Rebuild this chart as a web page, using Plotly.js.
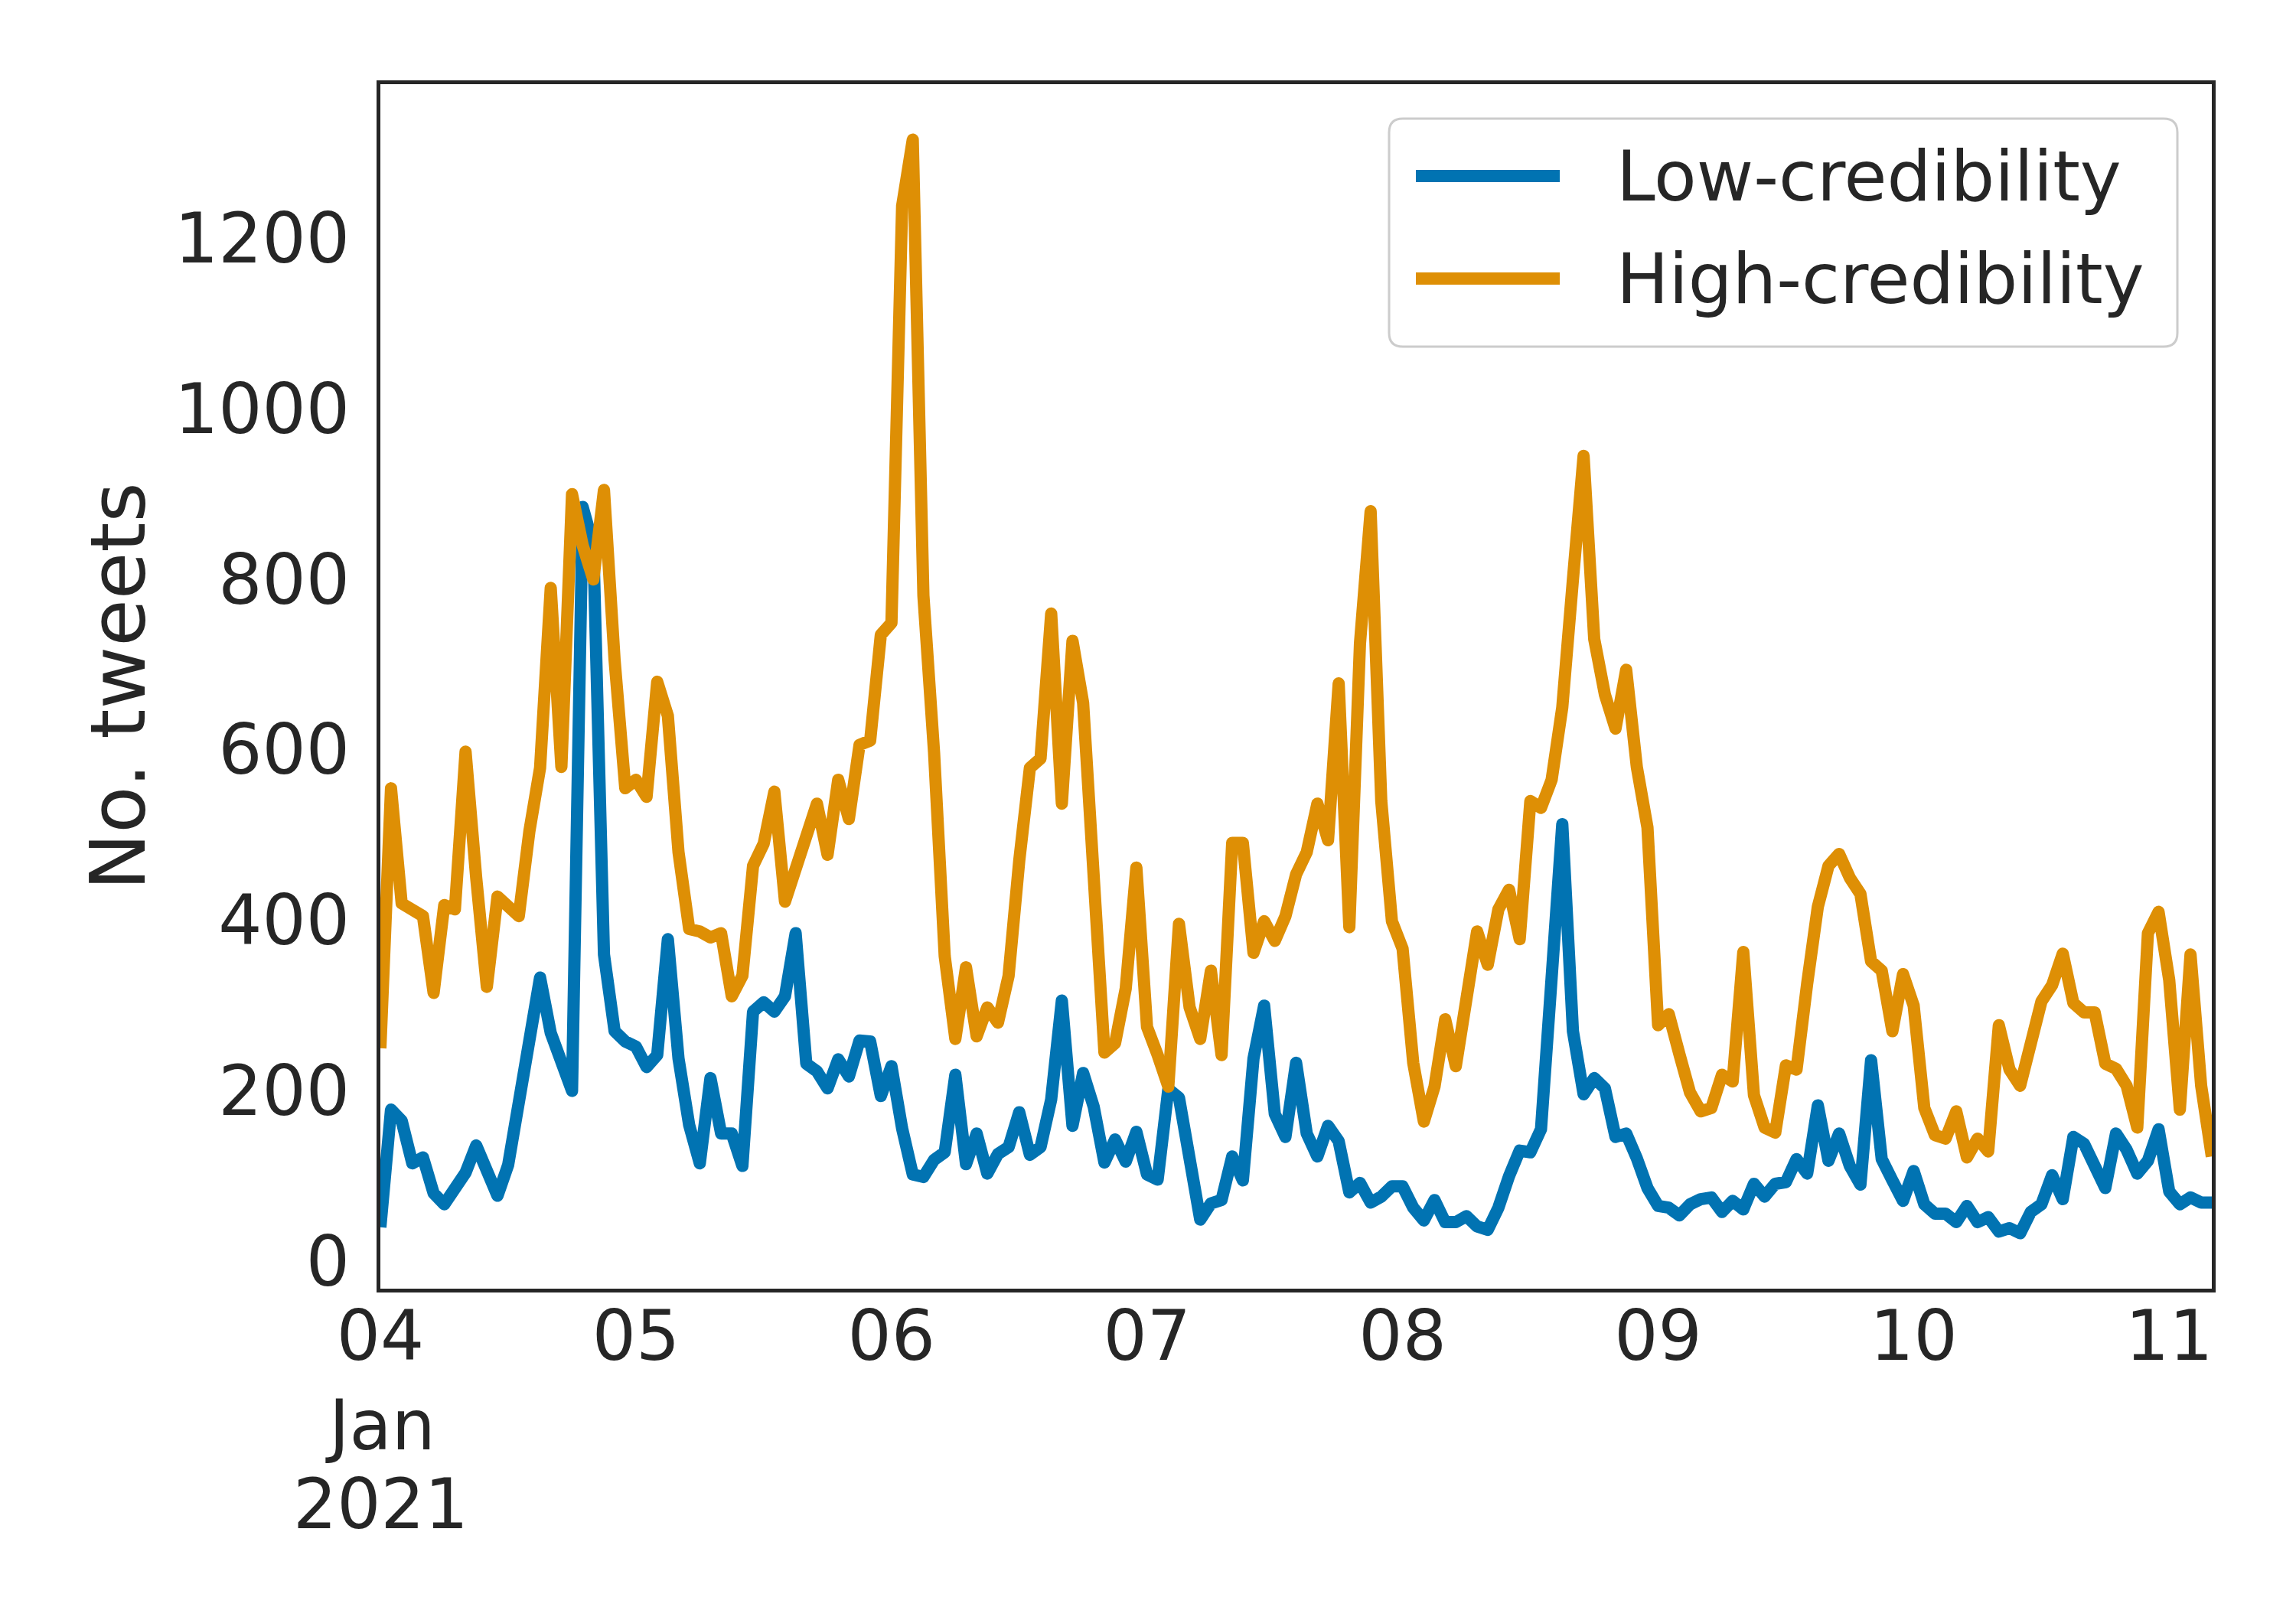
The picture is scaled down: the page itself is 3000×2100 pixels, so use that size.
<!DOCTYPE html>
<html>
<head>
<meta charset="utf-8">
<script src="https://cdn.plot.ly/plotly-3.0.1.min.js"></script>
<style>
  html, body { margin: 0; padding: 0; background: #ffffff; }
  #chart { width: 3000px; height: 2100px; }
  .scatterlayer path.js-line { stroke-linejoin: round !important; }
</style>
</head>
<body>
<div id="chart"></div>
<script>
// Hourly tweet counts, starting 2021-01-04 00:00 (one value per hour)
const startTime = Date.UTC(2021, 0, 4, 0, 0, 0);

const lowCredibility = [
  40, 178, 165, 115, 122, 80, 67, 88, 104, 136,
  110, 77, 113, 180, 250, 333, 268, 230, 200, 885,
  840, 360, 270, 258, 252, 228, 242, 378, 238, 160,
  115, 215, 150, 150, 112, 293, 304, 293, 311, 385,
  232, 223, 203, 237, 217, 259, 258, 194, 229, 156,
  102, 99, 119, 128, 219, 114, 150, 103, 126, 134,
  175, 125, 134, 190, 306, 159, 221, 181, 116, 143,
  117, 152, 102, 96, 202, 192, 110, 49, 68, 72,
  123, 95, 238, 300, 173, 146, 233, 150, 123, 159,
  141, 81, 92, 69, 76, 88, 88, 63, 48, 72,
  46, 46, 53, 41, 37, 63, 100, 130, 128, 155,
  333, 513, 270, 196, 215, 203, 146, 150, 121, 86,
  65, 63, 54, 67, 73, 75, 58, 71, 61, 91,
  76, 91, 93, 120, 103, 183, 118, 150, 112, 90,
  236, 120, 95, 71, 106, 67, 56, 56, 46, 65,
  46, 52, 35, 39, 33, 58, 67, 101, 73, 146,
  138, 112, 86, 150, 131, 103, 118, 155, 82, 67,
  75, 69, 69
];

const highCredibility = [
  250, 555, 420, 412, 405, 315, 418, 413, 598, 450,
  322, 428, 415, 405, 505, 579, 790, 580, 900, 840,
  800, 905, 705, 555, 565, 545, 680, 640, 480, 390,
  387, 380, 385, 311, 335, 464, 490, 551, 422, 464,
  505, 537, 477, 565, 519, 606, 611, 735, 749, 1238,
  1316, 781, 597, 358, 261, 345, 264, 298, 280, 335,
  470, 579, 590, 760, 537, 728, 655, 450, 245, 256,
  320, 462, 275, 242, 205, 396, 298, 261, 341, 242,
  491, 491, 362, 399, 376, 405, 454, 480, 537, 494,
  678, 392, 725, 880, 540, 399, 367, 233, 164, 205,
  284, 229, 320, 387, 348, 413, 436, 378, 540, 532,
  565, 650, 800, 945, 730, 665, 625, 694, 580, 509,
  277, 290, 243, 198, 176, 180, 219, 211, 363, 195,
  157, 151, 230, 225, 326, 416, 464, 478, 450, 431,
  352, 341, 270, 337, 300, 180, 148, 144, 176, 122,
  144, 129, 277, 225, 206, 251, 305, 324, 361, 303,
  292, 292, 232, 226, 206, 157, 385, 410, 330, 178,
  360, 206, 123
];

const seriesNames = ['Low-credibility', 'High-credibility'];
const seriesColors = ['#0173B2', '#DE8F05'];

const tickDates = ['2021-01-04', '2021-01-05', '2021-01-06', '2021-01-07',
                   '2021-01-08', '2021-01-09', '2021-01-10', '2021-01-11'];
const tickLabels = ['04', '05', '06', '07', '08', '09', '10', '11'];
const firstTickExtra = ['Jan', '2021'];

const yTicks = [0, 200, 400, 600, 800, 1000, 1200];
const yTitle = 'No. tweets';

function pad(n) { return (n < 10 ? '0' : '') + n; }
function stamp(ms) {
  const d = new Date(ms);
  return d.getUTCFullYear() + '-' + pad(d.getUTCMonth() + 1) + '-' + pad(d.getUTCDate()) +
         ' ' + pad(d.getUTCHours()) + ':' + pad(d.getUTCMinutes());
}
const times = lowCredibility.map((_, i) => stamp(startTime + i * 3600000));

// ---- layout geometry (pixels) ----
const W = 3000, H = 2100;
const L = 497, R = 2890, T = 110, B = 1684;
const px2x = x => (x - L) / (R - L);
const px2y = y => (B - y) / (B - T);

const textColor = '#262626';
const fontFam = 'DejaVu Sans, Liberation Sans, sans-serif';
const lineW = 16;

const traces = [
  { x: times, y: lowCredibility, name: seriesNames[0], type: 'scatter', mode: 'lines',
    line: { color: seriesColors[0], width: lineW }, showlegend: false },
  { x: times, y: highCredibility, name: seriesNames[1], type: 'scatter', mode: 'lines',
    line: { color: seriesColors[1], width: lineW }, showlegend: false }
];

// manual legend (matplotlib style: long line samples, rounded box)
const box = { x0: 1815, y0: 155, x1: 2845, y1: 453, r: 18 };
function roundedRectPath(b) {
  const rx = b.r / (R - L), ry = b.r / (B - T);
  const x0 = px2x(b.x0), x1 = px2x(b.x1), yt = px2y(b.y0), yb = px2y(b.y1);
  return `M${x0 + rx},${yt} L${x1 - rx},${yt} Q${x1},${yt} ${x1},${yt - ry} ` +
         `L${x1},${yb + ry} Q${x1},${yb} ${x1 - rx},${yb} L${x0 + rx},${yb} ` +
         `Q${x0},${yb} ${x0},${yb + ry} L${x0},${yt - ry} Q${x0},${yt} ${x0 + rx},${yt} Z`;
}
const legendRows = [230, 364];
const shapes = [
  { type: 'path', xref: 'paper', yref: 'paper', path: roundedRectPath(box),
    fillcolor: 'rgba(255,255,255,0.8)', line: { color: '#cccccc', width: 3 }, layer: 'above' }
];
const annotations = [];
seriesNames.forEach((nm, i) => {
  shapes.push({ type: 'line', xref: 'paper', yref: 'paper',
    x0: px2x(1850), x1: px2x(2038), y0: px2y(legendRows[i]), y1: px2y(legendRows[i]),
    line: { color: seriesColors[i], width: lineW }, layer: 'above' });
  annotations.push({ xref: 'paper', yref: 'paper', x: px2x(2110), y: px2y(legendRows[i]),
    xanchor: 'left', yanchor: 'middle', showarrow: false, text: nm,
    font: { family: fontFam, size: 91, color: textColor } });
});
// second and third line of the first date tick label
annotations.push({ xref: 'x', yref: 'paper', x: tickDates[0], y: px2y(1862),
  xanchor: 'center', yanchor: 'middle', showarrow: false, text: firstTickExtra[0],
  font: { family: fontFam, size: 90, color: textColor } });
annotations.push({ xref: 'x', yref: 'paper', x: tickDates[0], y: px2y(1966),
  xanchor: 'center', yanchor: 'middle', showarrow: false, text: firstTickExtra[1],
  font: { family: fontFam, size: 90, color: textColor } });

const layout = {
  width: W, height: H,
  paper_bgcolor: '#ffffff', plot_bgcolor: '#ffffff',
  margin: { l: L, r: W - R, t: T, b: H - B, pad: 0 },
  font: { family: fontFam, size: 90, color: textColor },
  showlegend: false,
  xaxis: {
    type: 'date',
    range: [times[0], times[times.length - 1]],
    tickmode: 'array', tickvals: tickDates, ticktext: tickLabels,
    tickfont: { family: fontFam, size: 90, color: textColor },
    ticks: '', ticklabelstandoff: -20,
    showgrid: false, zeroline: false,
    showline: true, mirror: true, linecolor: textColor, linewidth: 5,
    automargin: false
  },
  yaxis: {
    range: [-32, 1381],
    tickmode: 'array', tickvals: yTicks,
    tickfont: { family: fontFam, size: 90, color: textColor },
    ticks: 'outside', ticklen: 17, tickcolor: 'rgba(0,0,0,0)',
    showgrid: false, zeroline: false,
    showline: true, mirror: true, linecolor: textColor, linewidth: 5,
    title: { text: yTitle, font: { family: fontFam, size: 100, color: textColor }, standoff: 6 },
    automargin: false
  },
  shapes: shapes,
  annotations: annotations
};

Plotly.newPlot('chart', traces, layout, { staticPlot: true, displayModeBar: false });
</script>
</body>
</html>
